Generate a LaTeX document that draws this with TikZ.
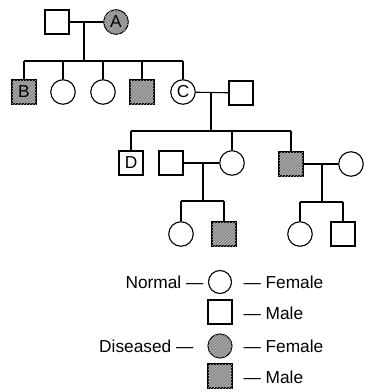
\documentclass[tikz,border=0pt]{standalone}
\usepackage{fontspec}
\setmainfont{Liberation Sans}
\usetikzlibrary{patterns}
\begin{document}
\begin{tikzpicture}[x=1pt,y=-1pt,
  line width=1.1pt,
  every node/.style={font=\fontsize{17.3}{19}\selectfont},
  male/.style={draw,rectangle,minimum size=24pt,inner sep=0pt},
  female/.style={draw,circle,minimum size=24.5pt,inner sep=0pt},
  sick/.style={fill=black!45,postaction={pattern=north east lines,pattern color=black!30}},
  lbl/.style={inner sep=0pt}]
\useasboundingbox (0,0) rectangle (392,392);
% Generation I
\node[male] (m1) at (57,22) {};
\node[female,sick] (fA) at (116,22) {A};
\coordinate (mI) at (84,22);
\coordinate (sI) at (84,61);
\draw (m1) -- (fA);
\draw (mI) -- (sI);
% Generation II
\node[male,sick] (B) at (24,92) {B};
\node[female] (f2) at (63,92) {};
\node[female] (f3) at (103,92) {};
\node[male,sick] (m4) at (142,92) {};
\node[female] (C) at (183,92) {C};
\node[male] (mC) at (241,93) {};
\coordinate (lI) at (24,61);
\coordinate (rI) at (183,61);
\draw (lI) -- (rI);
\foreach \n in {B,f2,f3,m4,C} \draw (\n.north) -- (\n.north |- lI);
\draw (C) -- (mC);
\coordinate (mII) at (211,93);
\coordinate (sII) at (211,131);
\draw (mII) -- (sII);
% Generation III
\node[male] (D) at (131,163) {D};
\node[male] (s1) at (171,163) {};
\node[female] (f) at (232,163) {};
\node[male,sick] (m) at (291,164) {};
\node[female] (w) at (351,164) {};
\coordinate (lII) at (131,131);
\coordinate (rII) at (291,131);
\draw (lII) -- (rII);
\foreach \n in {D,f,m} \draw (\n.north) -- (\n.north |- lII);
\draw (s1) -- (f);
\draw (m) -- (w);
\coordinate (mIIIa) at (203,163);
\coordinate (sIIIa) at (203,201);
\coordinate (mIIIb) at (322,164);
\coordinate (sIIIb) at (322,202);
\draw (mIIIa) -- (sIIIa);
\draw (mIIIb) -- (sIIIb);
% Generation IV
\node[female] (c1) at (181,234) {};
\node[male,sick] (c2) at (224,234) {};
\node[female] (c3) at (300,234) {};
\node[male] (c4) at (343,234) {};
\draw (c1.north |- sIIIa) -- (c2.north |- sIIIa);
\draw (c3.north |- sIIIb) -- (c4.north |- sIIIb);
\foreach \n in {c1,c2} \draw (\n.north) -- (\n.north |- sIIIa);
\foreach \n in {c3,c4} \draw (\n.north) -- (\n.north |- sIIIb);
% Legend
\node[female,minimum size=23pt] (lf) at (220,282) {};
\node[male] (lm) at (220,312) {};
\node[female,sick,minimum size=24pt] (ldf) at (220,346) {};
\node[male,sick] (ldm) at (220,376) {};
\node[lbl,anchor=east] (tn) at (204,282) {Normal —};
\node[lbl,anchor=west] (tf1) at (243,282) {— Female};
\node[lbl,anchor=west] (tm1) at (243,313) {— Male};
\node[lbl,anchor=east] (td) at (194,346) {Diseased —};
\node[lbl,anchor=west] (tf2) at (243,346) {— Female};
\node[lbl,anchor=west] (tm2) at (243,377) {— Male};
\end{tikzpicture}
\end{document}
